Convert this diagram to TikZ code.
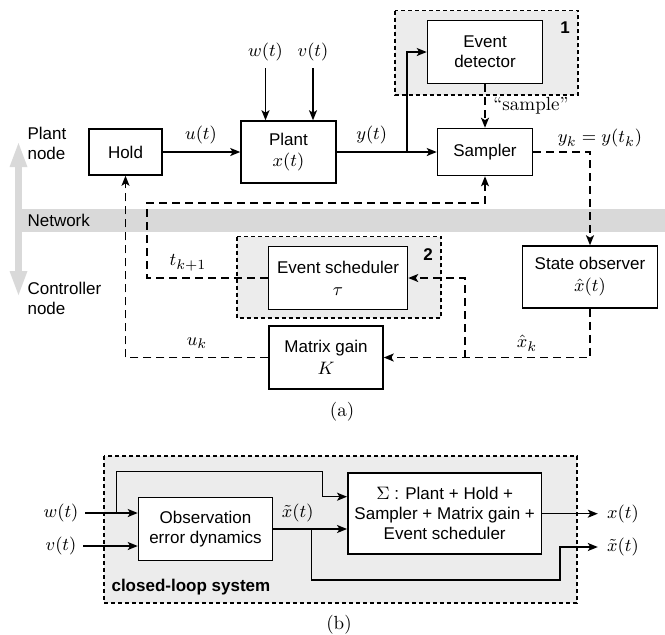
\documentclass[tikz,border=0pt]{standalone}
\usepackage{fontspec}
\usetikzlibrary{arrows.meta}
\newfontfamily\helv{Liberation Sans}
\newcommand\figsize{\fontsize{8.5}{10}\selectfont}
\newcommand\mathsize{\fontsize{9.5}{11}\selectfont}
\newcommand\mth[1]{{\mathsize$#1$}}

\begin{document}
\begin{tikzpicture}[x=0.5pt,y=-0.5pt,font=\mathsize,
    block/.style={draw,fill=white,line width=0.75pt,align=center,font=\helv\figsize},
    link/.style={line width=0.75pt,-{Stealth[length=5pt,width=4pt,inset=1.2pt]}},
    dlink/.style={link,dash pattern=on 4pt off 2.5pt},
    region/.style={draw,fill=gray!15,line width=0.75pt,dash pattern=on 2pt off 1.5pt},
    tag/.style={font=\helv\bfseries\figsize},
    side/.style={anchor=west,align=left,font=\helv\figsize}]
  \useasboundingbox (0,0) rectangle (665,634);

  % network band and direction arrow
  \fill[gray!30] (18,209) rectangle (665,232);
  \coordinate (up) at (18.5,143);
  \coordinate (down) at (18.5,295);
  \draw[gray!30,line width=3.5pt,{Triangle[length=12pt,width=9pt,line width=0pt]}-{Triangle[length=12pt,width=9pt,line width=0pt]}] (up) -- (down);

  \draw[region] (395,10.7) rectangle (578,95);
  \draw[region] (237,236.7) rectangle (441,318);

  \node[block,minimum width=36.5pt,minimum height=23pt] (hold) at (125.5,152) {Hold};
  \node[block,minimum width=47.5pt,minimum height=31pt] (plant) at (288.5,152) {Plant\\[0.5pt]\mth{x(t)}};
  \node[block,minimum width=47.5pt,minimum height=23.5pt] (sampler) at (485,152) {Sampler};
  \node[block,minimum width=57.5pt,minimum height=31.5pt] (detector) at (485,52) {Event\\detector};
  \node[block,minimum width=69.5pt,minimum height=31.5pt] (scheduler) at (338,278) {Event scheduler\\[1pt]\mth{\tau}};
  \node[block,minimum width=57pt,minimum height=31.5pt] (gain) at (326,357.5) {Matrix gain\\[1pt]\mth{K}};
  \node[block,minimum width=67.5pt,minimum height=31pt] (observer) at (590,277) {State observer\\[1pt]\mth{\hat{x}(t)}};

  \node (w) at (265.5,52) {$w(t)$};
  \node (v) at (313,52) {$v(t)$};
  \node (u) at (201,135) {$u(t)$};
  \node (y) at (371.7,135) {$y(t)$};
  \node (sample) at (531,106) {``sample''};
  \node (yk) at (600,138) {$y_k = y(t_k)$};
  \node (tk) at (188,263) {$t_{k+1}$};
  \node (uk) at (197,343) {$u_k$};
  \node (xk) at (527,343) {$\hat{x}_k$};
  \node[tag] (one) at (565,28) {1};
  \node[tag] (two) at (428,255) {2};
  \node[side] (plantside) at (20.5,143) {Plant\\node};
  \node[side] (netside) at (20.5,220) {Network};
  \node[side] (ctrlside) at (20.5,298) {Controller\\node};
  \node (capa) at (342,412) {(a)};

  \draw[link] (w) -- (w |- plant.north);
  \draw[link] (v) -- (v |- plant.north);
  \draw[link] (hold) -- (plant);
  \draw[link] (plant) -- (sampler);
  \coordinate (ysplit) at (407,152);
  \draw[link] (ysplit) |- (detector);
  \draw[dlink] (detector) -- (sampler);
  \draw[dlink] (sampler) -| (observer);
  \draw[dlink] (observer) |- (gain);
  \coordinate (xsplit) at (465,357.5);
  \draw[dlink] (xsplit) |- (scheduler);
  \coordinate (tcorner) at (147,203);
  \draw[dlink] (scheduler) -| (tcorner) -| (sampler);
  \draw[dlink] (gain) -| (hold);

  % closed-loop system
  \draw[region] (104,456) rectangle (577,603);
  \node[block,minimum width=67pt,minimum height=31.5pt] (obs) at (205.5,529) {Observation\\error dynamics};
  \node[block,minimum width=95.5pt,minimum height=40.5pt] (sigma) at (444.7,513.7) {\mth{\Sigma} : Plant + Hold +\\Sampler + Matrix gain +\\Event scheduler};
  \node (wb) at (61,513) {$w(t)$};
  \node (vb) at (61,546) {$v(t)$};
  \node (xtilde) at (297.7,513) {$\tilde{x}(t)$};
  \node[inner sep=4.5pt] (xb) at (623,513.7) {$x(t)$};
  \node[inner sep=4.5pt] (xtb) at (623,547) {$\tilde{x}(t)$};
  \node[tag,anchor=west] (loop) at (104.5,587) {closed-loop system};
  \node (capb) at (339,625) {(b)};

  \draw[link] (wb) -- (wb -| obs.west);
  \draw[link] (vb) -- (vb -| obs.west);
  \coordinate (wsplit) at (116.7,513);
  \coordinate (wtop) at (322.7,471.7);
  \draw[link] (wsplit) |- (wtop) |- ([yshift=8.5pt]sigma.west);
  \draw[link] (obs) -- (obs -| sigma.west);
  \coordinate (esplit) at (311.7,529);
  \coordinate (elow) at (560,580);
  \draw[link] (esplit) |- (elow) |- (xtb);
  \draw[link] (sigma) -- (xb);
\end{tikzpicture}
\end{document}
